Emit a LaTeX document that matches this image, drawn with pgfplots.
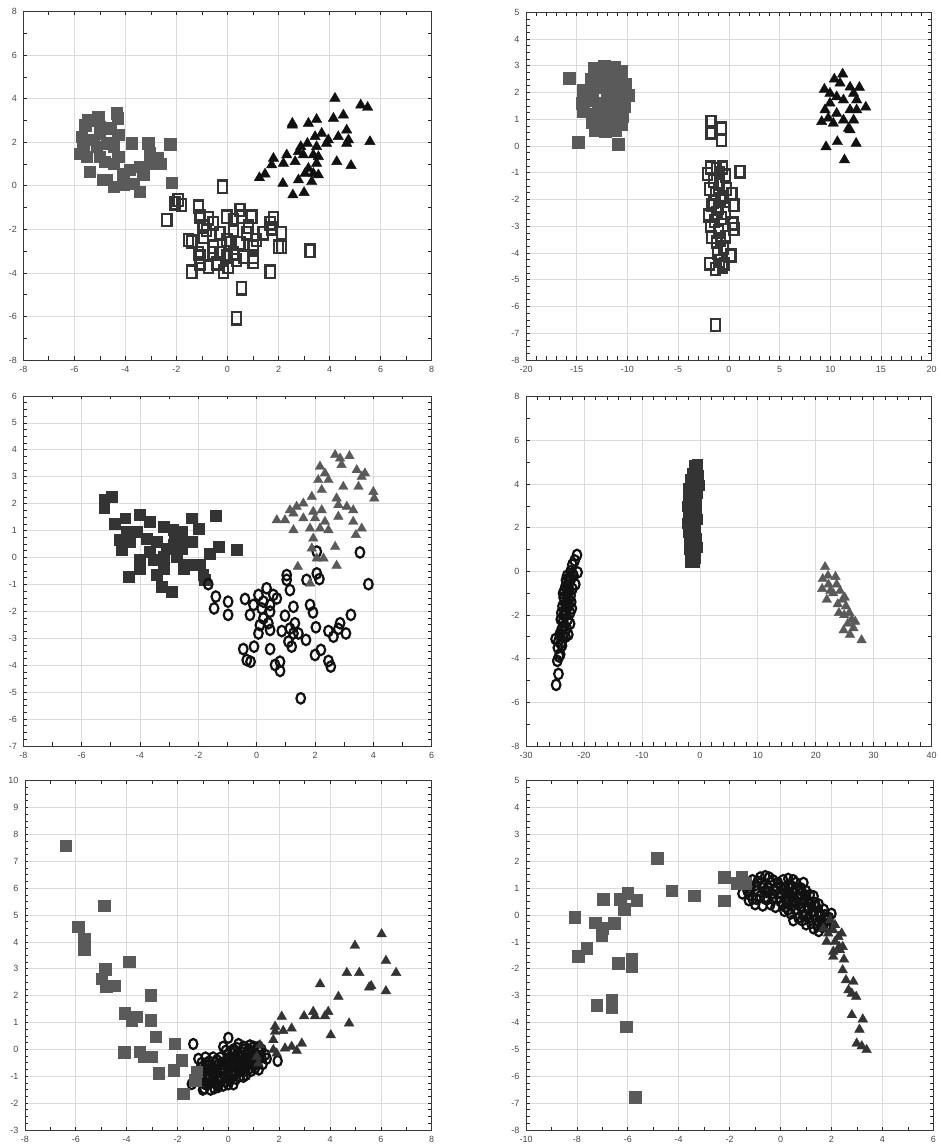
\documentclass[border=0pt]{standalone}
\usepackage{fontspec}
\setmainfont{Liberation Sans}
\usepackage{pgfplots}
\pgfplotsset{compat=1.18}
\definecolor{cgray}{HTML}{5A5A5A}
\definecolor{cdark}{HTML}{343434}
\definecolor{cblack}{HTML}{111111}
\pgfplotsset{
 panel/.style={scale only axis, anchor=south west,
  axis line style={draw=black!78, line width=0.9pt},
  grid=major, major grid style={draw=black!14, line width=0.7pt},
  tick align=inside, major tick length=3.5pt, minor tick length=3.5pt,
  tick style={draw=black!85, line width=0.7pt},
  tick label style={font=\fontsize{9}{10}\selectfont, text=black!72},
  /pgf/number format/assume math mode=true,
  xticklabel style={yshift=-3pt}, yticklabel style={xshift=-3pt}},
 fsq/.style={only marks, mark=square*, mark size=#1, color=cgray},
 dsq/.style={only marks, mark=square*, mark size=#1, color=cdark},
 hsq/.style={only marks, mark=square, mark size=#1, color=cdark, mark options={line width=2.4pt, xscale=0.85, yscale=1.15}},
 hci/.style={only marks, mark=o, mark size=#1, color=cblack, mark options={line width=2.2pt, xscale=0.9, yscale=1.1}},
 btri/.style={only marks, mark=triangle*, mark size=#1, color=cblack},
 dtri/.style={only marks, mark=triangle*, mark size=#1, color=cdark},
 gtri/.style={only marks, mark=triangle*, mark size=#1, color=cgray},
}
\begin{document}
\begin{tikzpicture}
\useasboundingbox (0,0) rectangle (940pt,1148pt);
% ---------- Panel 1 ----------
\begin{axis}[panel, at={(23.3pt,788pt)}, width=408.4pt, height=348.3pt,
 xmin=-8, xmax=8, ymin=-8, ymax=8, xtick distance=2, ytick distance=2,
 minor x tick num=1, minor y tick num=1]
\addplot[fsq=5.7pt] coordinates {
(-4.34,3.33) (-5.06,3.18) (-5.45,3.02) (-5.58,2.79) (-4.30,3.10) (-5.71,2.26) (-5.78,1.49) (-5.39,0.65)
(-5.13,1.80) (-4.74,1.95) (-5.0,2.41) (-4.28,2.34) (-4.47,1.80) (-3.76,1.95) (-3.10,1.95) (-2.25,1.92)
(-2.64,1.03) (-3.04,1.03) (-3.43,0.88) (-3.82,0.73) (-4.47,1.03) (-4.80,1.11) (-4.74,0.27) (-4.47,-0.04)
(-4.08,0.04) (-3.69,0.11) (-3.43,-0.27) (-3.30,0.50) (-2.19,0.15) (-4.08,0.57) (-4.87,0.27) (-4.28,1.34)
(-5.0,1.34) (-5.52,1.34) (-5.65,1.80) (-5.26,2.11) (-4.6,2.64) (-5.0,2.72) (-3.05,1.50) (-2.75,1.30)
};
\addplot[hsq=5.4pt] coordinates {
(-0.19,-0.04) (-1.93,-0.65) (-1.80,-0.88) (-2.06,-0.80) (-2.38,-1.57) (-1.14,-0.96) (-1.08,-1.42) (-0.75,-1.49)
(-0.03,-1.42) (0.49,-1.11) (0.55,-1.42) (0.95,-1.42) (1.80,-1.49) (1.73,-1.95) (2.12,-2.18) (1.99,-2.79)
(2.12,-2.79) (3.23,-2.98) (1.67,-3.94) (0.55,-4.71) (0.36,-6.09) (-1.40,-3.94) (-0.75,-3.71) (-1.08,-3.56)
(-1.53,-2.49) (-1.40,-2.56) (-0.95,-2.33) (-0.95,-1.87) (-0.16,-3.94) (0.03,-3.71) (-0.03,-3.25) (-0.56,-2.79)
(-0.29,-2.18) (0.23,-2.03) (0.75,-2.18) (1.01,-2.79) (1.01,-3.25) (1.01,-3.48) (0.62,-3.25) (0.23,-3.10)
(0.49,-2.64) (1.14,-2.49) (1.40,-2.18) (-0.56,-1.72) (-1.08,-3.25) (-0.29,-3.10) (0.10,-2.64) (0.23,-1.57)
(0.82,-1.87) (1.67,-1.72) (-0.56,-3.10) (-1.14,-3.10) (-0.82,-2.03) (-0.03,-2.49) (0.36,-3.41) (-0.42,-3.56)
};
\addplot[btri=6pt] coordinates {
(4.21,4.02) (5.22,3.71) (5.49,3.60) (5.58,2.03) (4.54,3.25) (4.15,3.10) (3.49,3.05) (3.17,2.87)
(2.54,2.87) (2.54,2.79) (4.67,2.56) (4.34,2.26) (4.74,2.11) (4.67,1.95) (3.69,2.41) (3.43,2.26)
(3.95,2.11) (3.88,1.95) (2.87,1.80) (3.13,1.95) (3.49,1.80) (3.36,1.42) (2.97,1.42) (2.78,1.57)
(2.32,1.42) (1.80,1.26) (1.73,0.96) (2.19,1.03) (2.65,1.11) (3.49,1.03) (4.28,1.11) (4.84,0.93)
(3.17,0.80) (3.04,0.57) (3.56,0.50) (3.30,0.19) (2.78,0.27) (2.17,0.11) (1.47,0.54) (1.25,0.37)
(2.56,-0.42) (3.00,-0.31) (3.36,0.57) (3.56,1.34)
};
\end{axis}
% ---------- Panel 2 ----------
\begin{axis}[panel, at={(526pt,788pt)}, width=405.7pt, height=347.7pt,
 xmin=-20, xmax=20, ymin=-8, ymax=5, xtick distance=5, ytick distance=1,
 minor x tick num=4, minor y tick num=3]
\addplot[fsq=6pt] coordinates {
(-13.3,2.9) (-12.3,3.0) (-11.3,2.95) (-10.6,2.8) (-13.6,2.5) (-12.8,2.6) (-11.8,2.5) (-11.0,2.5)
(-10.2,2.3) (-14.4,2.1) (-13.5,2.1) (-12.6,2.2) (-11.5,2.1) (-10.4,2.0) (-9.9,1.9) (-14.5,1.6)
(-13.8,1.7) (-12.9,1.6) (-12.0,1.7) (-11.0,1.6) (-10.3,1.5) (-14.4,1.3) (-13.2,1.2) (-12.3,1.3)
(-11.4,1.2) (-10.5,1.1) (-13.5,0.9) (-12.6,0.9) (-11.5,0.9) (-10.6,0.8) (-13.2,0.6) (-12.2,0.55)
(-11.2,0.6) (-13.0,2.3) (-12.0,2.0) (-11.0,1.9) (-15.7,2.55) (-14.9,0.15) (-10.9,0.05)
};
\addplot[hsq=5.2pt] coordinates {
(-1.76,0.89) (-0.71,0.66) (-1.76,0.50) (-0.71,0.23) (1.10,-0.96) (-1.30,-6.69)
(-1.8,-0.8) (-1.2,-0.85) (-0.6,-0.8) (-2.1,-1.05) (-0.3,-1.1) (-1.5,-1.3) (-0.9,-1.4) (-0.2,-1.6)
(-1.9,-1.6) (-1.3,-1.8) (0.3,-1.8) (-0.6,-1.9) (-1.7,-2.2) (0.5,-2.2) (-1.0,-2.3) (-0.3,-2.5)
(-2.0,-2.6) (-1.4,-2.8) (-0.7,-2.7) (0.4,-2.9) (0.5,-3.1) (-1.8,-3.0) (-1.0,-3.2) (-0.3,-3.4)
(-1.7,-3.4) (-1.2,-3.6) (-0.5,-3.8) (-1.1,-4.0) (0.2,-4.1) (-1.9,-4.4) (-1.3,-4.6) (-0.6,-4.5)
(-0.9,-4.3) (-1.5,-2.1) (-0.9,-1.0) (-0.8,-2.0) (-1.2,-2.5) (-0.8,-3.5) (-0.4,-4.4)
};
\addplot[btri=6pt] coordinates {
(11.22,2.69) (10.4,2.5) (9.42,2.12) (12.87,2.19) (13.5,1.45) (9.15,0.91) (9.58,-0.03) (10.7,0.16)
(11.4,-0.52) (12.55,0.1) (11.95,0.6) (10.63,1.84) (11.95,2.2) (9.97,1.6) (11.3,1.72) (12.6,1.72)
(11.95,1.35) (10.63,1.22) (9.8,1.04) (11.3,0.97) (12.3,0.97) (10.3,0.85) (11.8,0.66) (10.96,2.35)
(12.3,1.97) (9.97,1.97) (12.6,1.35) (9.48,1.35)
};
\end{axis}
% ---------- Panel 3 ----------
\begin{axis}[panel, at={(23.3pt,402pt)}, width=408.4pt, height=350pt,
 xmin=-8, xmax=6, ymin=-7, ymax=6, xtick distance=2, ytick distance=1,
 minor x tick num=1, minor y tick num=3]
\addplot[dsq=5.4pt] coordinates {
(-5.23,2.14) (-4.97,2.26) (-5.23,1.83) (-4.86,1.27) (-4.51,1.46) (-4.0,1.58) (-3.66,1.33) (-3.2,1.15)
(-2.23,1.46) (-2.0,1.08) (-1.4,1.56) (-1.31,0.40) (-0.69,0.28) (-2.57,0.96) (-2.8,0.71) (-2.23,0.59)
(-4.69,0.65) (-4.63,0.28) (-4.34,0.59) (-4.11,0.96) (-3.77,0.71) (-3.66,0.22) (-3.43,0.59) (-3.09,0.34)
(-2.86,0.47) (-2.74,0.03) (-3.2,0.03) (-4.0,-0.09) (-3.54,-0.09) (-2.34,-0.28) (-1.94,-0.28) (-1.6,0.15)
(-4.4,-0.71) (-4.0,-0.40) (-3.43,-0.65) (-3.26,-1.08) (-2.91,-1.27) (-3.2,-0.40) (-1.83,-0.65) (-1.77,-0.83)
(-2.51,-0.40) (-2.86,1.02) (-4.46,0.96) (-2.57,0.34) (-2.4,0.59)
};
\addplot[hci=4.8pt] coordinates {
(-1.66,-0.99) (-1.4,-1.45) (-1.46,-1.89) (-0.98,-1.64) (-0.98,-2.13) (-0.4,-1.54) (-0.23,-2.13) (-0.46,-3.4)
(-0.34,-3.81) (-0.21,-3.87) (-0.09,-3.31) (0.06,-2.82) (0.11,-2.51) (0.17,-1.89) (0.34,-1.14) (0.23,-1.64)
(0.46,-1.76) (0.57,-1.39) (0.69,-1.52) (0.46,-2.01) (0.23,-2.26) (0.4,-2.44) (0.46,-2.69) (0.46,-3.4)
(0.63,-3.99) (0.8,-3.87) (0.8,-4.21) (0.86,-2.73) (0.97,-2.16) (1.03,-0.65) (1.03,-0.83) (1.14,-1.21)
(1.26,-1.83) (1.14,-2.64) (1.09,-3.12) (1.2,-3.31) (1.26,-2.82) (1.31,-2.44) (1.43,-2.82) (1.71,-0.83)
(1.69,-3.06) (1.83,-1.76) (1.93,-2.04) (2.06,0.22) (2.06,-0.59) (2.15,-0.80) (2.03,-2.59) (2.0,-3.62)
(2.2,-3.43) (2.46,-2.73) (2.46,-3.84) (2.54,-4.05) (2.63,-2.94) (2.8,-2.65) (2.86,-2.44) (3.06,-2.82)
(3.23,-2.13) (3.54,0.19) (3.83,-0.99) (1.51,-5.23) (0.06,-1.39) (-0.11,-1.76)
};
\addplot[gtri=5.5pt] coordinates {
(2.69,3.81) (2.86,3.68) (3.18,3.77) (2.91,3.44) (2.17,3.38) (2.34,3.13) (3.43,3.25) (3.71,3.13)
(3.6,3.0) (2.11,2.88) (2.46,2.88) (2.23,2.51) (2.97,2.63) (3.49,2.63) (4.0,2.44) (4.03,2.2)
(1.89,2.26) (2.74,2.2) (1.6,2.01) (1.37,1.89) (1.14,1.76) (2.8,1.95) (3.09,1.89) (3.31,1.76)
(1.94,1.70) (2.23,1.76) (0.69,1.39) (0.97,1.39) (1.26,1.64) (1.6,1.46) (2.0,1.46) (2.34,1.33)
(2.8,1.52) (3.31,1.33) (1.26,1.02) (1.83,1.08) (2.17,1.08) (2.46,1.02) (3.6,1.08) (3.4,0.84)
(1.94,0.71) (1.89,0.34) (2.69,0.40) (2.06,-0.03) (2.29,-0.03) (1.41,-0.34) (2.74,-0.30) (1.83,-0.96)
};
\end{axis}
% ---------- Panel 4 ----------
\begin{axis}[panel, at={(526pt,402pt)}, width=405.7pt, height=349.3pt,
 xmin=-30, xmax=40, ymin=-8, ymax=8, xtick distance=10, ytick distance=2,
 minor x tick num=4, minor y tick num=1]
\addplot[hci=4.8pt] coordinates {
(-24.8,-5.2) (-24.4,-4.7) (-24.6,-4.1) (-24.3,-3.9) (-24.1,-3.8) (-24.9,-3.1) (-24.4,-3.2) (-23.6,-3.0)
(-23.9,-2.7) (-23.4,-2.5) (-24.0,-2.2) (-23.3,-2.0) (-22.1,-1.7) (-22.4,-1.9) (-23.7,-1.6) (-23.0,-1.4)
(-23.5,-1.2) (-22.8,-1.0) (-22.0,-0.8) (-23.2,-0.7) (-22.6,-0.5) (-22.9,-0.2) (-22.3,0.0) (-21.1,-0.05)
(-22.0,0.3) (-21.6,0.5) (-21.2,0.75) (-23.8,-3.4) (-23.2,-3.0) (-23.6,-2.3) (-22.8,-2.2) (-23.1,-1.8)
(-22.6,-1.3) (-22.3,-1.1) (-23.4,-0.9) (-22.5,-0.3) (-21.8,-0.2) (-24.2,-2.9) (-23.0,-2.6) (-22.7,-1.6)
(-24.5,-3.5) (-24.0,-3.3) (-23.7,-2.6) (-23.5,-2.0) (-23.2,-1.5) (-22.9,-1.1) (-22.6,-0.8) (-22.3,-0.4)
(-22.0,-0.1) (-22.7,-2.9) (-22.4,-2.4) (-23.9,-1.9) (-23.6,-1.0) (-23.1,-0.4) (-21.5,-0.6) (-22.2,-1.4)
};
\addplot[dsq=5pt] coordinates {
(-1.0,4.85) (-0.4,4.7) (-1.3,4.5) (-0.3,4.4) (-1.6,4.2) (-0.8,4.1) (-0.2,3.95) (-2.0,3.8)
(-1.2,3.7) (-0.4,3.6) (-2.1,3.4) (-1.3,3.3) (-0.6,3.2) (-2.2,3.0) (-1.4,2.9) (-0.7,2.8)
(-2.1,2.6) (-1.3,2.5) (-0.5,2.4) (-2.2,2.2) (-1.5,2.1) (-0.8,2.0) (-2.0,1.8) (-1.2,1.7)
(-0.6,1.5) (-1.8,1.35) (-1.0,1.2) (-1.9,1.0) (-1.0,0.9) (-1.7,0.7) (-0.8,0.6) (-1.6,0.4)
(-0.9,0.4) (-0.5,1.1) (-0.4,4.9)
};
\addplot[gtri=5.5pt] coordinates {
(21.6,0.2) (21.2,-0.35) (22.1,-0.2) (23.4,-0.25) (21.1,-0.8) (22.2,-0.6) (23.6,-0.6) (24.2,-0.9)
(21.9,-1.3) (23.0,-1.0) (24.6,-1.3) (23.8,-1.5) (25.2,-1.6) (24.9,-2.0) (25.8,-1.9) (26.2,-2.2)
(25.5,-2.4) (26.5,-2.6) (24.8,-2.7) (25.9,-2.9) (27.9,-3.15) (22.5,-0.9) (24.0,-1.9) (26.8,-2.3)
(25.0,-1.2)
};
\end{axis}
% ---------- Panel 5 ----------
\begin{axis}[panel, at={(25pt,18pt)}, width=406.7pt, height=349.3pt,
 xmin=-8, xmax=8, ymin=-3, ymax=10, xtick distance=2, ytick distance=1,
 minor x tick num=1, minor y tick num=3]
\addplot[hci=4.6pt] coordinates {
(-1.38,0.20) (0,0.43) (-1.44,-1.29) (-0.39,-1.33) (1.51,-0.35) (1.94,-0.43) (0.59,-1.02) (-1.18,-0.35)
(-1.0,-1.5) (-0.8,-1.3) (-0.9,-1.0) (-0.7,-0.8) (-0.6,-1.2) (-0.5,-0.9) (-0.5,-0.5) (-0.4,-1.1)
(-0.3,-0.7) (-0.3,-0.3) (-0.2,-0.9) (-0.1,-0.5) (0.0,-0.2) (0.0,-0.8) (0.1,-1.1) (0.1,-0.4)
(0.2,-0.6) (0.2,0.0) (0.3,-0.9) (0.3,-0.3) (0.4,-0.5) (0.5,-0.1) (0.5,-0.8) (0.6,-0.4)
(0.7,-0.2) (0.7,-0.6) (0.8,0.0) (0.9,-0.3) (1.0,-0.5) (1.1,-0.2) (1.2,0.1) (1.3,-0.3)
(-0.8,-0.6) (-0.6,-0.3) (-1.1,-0.7) (-0.2,0.1) (0.4,0.2) (-0.4,-1.4) (0.0,-1.3) (0.6,0.1)
(-0.7,-1.5) (1.0,0.1) (0.2,-1.3) (-0.9,-0.3)
(-1.1,-1.2) (-1.0,-0.9) (-0.9,-1.3) (-0.85,-0.5) (-0.75,-1.1) (-0.65,-0.6) (-0.55,-1.45) (-0.45,-0.75)
(-0.35,-1.2) (-0.25,-0.5) (-0.15,-1.0) (-0.05,-0.35) (0.05,-0.65) (0.15,-0.9) (0.25,-0.4) (0.35,-0.7)
(0.45,-1.0) (0.55,-0.3) (0.65,-0.8) (0.75,-0.45) (0.85,-0.7) (0.95,-0.1) (1.05,-0.7) (1.15,-0.45)
(1.25,-0.1) (1.35,-0.55) (0.15,-0.15) (-0.1,-0.05) (0.35,0.05) (0.85,0.15) (-0.6,-0.9) (-0.3,-1.0)
(0.0,-1.0) (0.45,-0.2) (0.7,-0.95) (-0.95,-0.75) (1.45,-0.2) (-0.2,-1.35)
(-1.0,-1.1) (-0.95,-1.45) (-0.8,-0.95) (-0.7,-1.25) (-0.6,-0.7) (-0.5,-1.25) (-0.4,-0.6) (-0.3,-1.1)
(-0.2,-0.7) (-0.1,-1.2) (0.0,-0.5) (0.1,-0.85) (0.2,-0.3) (0.3,-1.1) (0.4,-0.8) (0.5,-0.55)
(0.6,-0.65) (0.7,-0.35) (0.8,-0.55) (0.9,-0.8) (1.0,-0.3) (1.1,-0.55) (1.2,-0.75) (1.3,0.0)
(-0.45,-0.4) (0.25,-0.05) (0.65,0.0) (-0.75,-0.45) (-1.05,-0.5) (0.95,-0.55)
};
\addplot[fsq=5.7pt] coordinates {
(-6.39,7.57) (-4.89,5.35) (-5.9,4.57) (-5.67,4.13) (-5.67,3.70) (-3.9,3.26) (-4.84,2.98) (-4.98,2.64)
(-4.81,2.33) (-4.49,2.37) (-3.06,2.01) (-4.08,1.34) (-3.61,1.22) (-3.8,1.09) (-3.06,1.09) (-2.85,0.47)
(-2.1,0.22) (-4.09,-0.11) (-3.48,-0.09) (-3.34,-0.27) (-3.02,-0.27) (-1.84,-0.40) (-2.16,-0.77) (-2.75,-0.89)
(-1.25,-0.83) (-1.77,-1.64) (-1.31,-1.15)
};
\addplot[dtri=5.6pt] coordinates {
(6.03,4.29) (4.98,3.86) (6.2,3.30) (6.6,2.85) (4.66,2.85) (5.15,2.85) (3.61,2.43) (5.62,2.36)
(5.54,2.31) (6.2,2.17) (4.33,1.96) (3.93,1.40) (3.34,1.40) (2.98,1.24) (3.8,1.24) (3.41,1.24)
(4.75,0.97) (2.1,1.22) (1.84,0.85) (1.84,0.66) (2.16,0.69) (2.49,0.78) (4.03,0.53) (2.89,0.22)
(2.49,0.10) (2.23,0.04) (2.69,-0.05) (1.77,0.35) (1.77,-0.02) (1.25,0.16) (1.12,-0.27) (1.18,-0.52)
(1.9,-0.15)
};
\end{axis}
% ---------- Panel 6 ----------
\begin{axis}[panel, at={(526pt,18pt)}, width=407.3pt, height=349.3pt,
 xmin=-10, xmax=6, ymin=-8, ymax=5, xtick distance=2, ytick distance=1,
 minor x tick num=1, minor y tick num=3]
\addplot[hci=4.6pt] coordinates {
(-1.4,1.2) (-1.5,0.8) (-1.2,0.75) (-1.0,1.1) (-0.8,1.4) (-0.6,1.45) (-0.9,0.9) (-0.5,1.0)
(-1.0,0.4) (-0.7,0.35) (-0.3,1.3) (-0.1,1.2) (0.1,1.3) (0.3,1.35) (0.5,1.3) (0.9,1.2)
(-0.3,0.6) (0.0,0.8) (0.2,1.0) (0.4,0.7) (0.6,1.0) (0.8,0.8) (1.0,0.9) (-0.2,0.3)
(0.1,0.4) (0.3,0.2) (0.6,0.5) (0.8,0.3) (1.1,0.5) (1.3,0.7) (1.4,0.3) (0.7,-0.1)
(1.0,0.0) (1.2,-0.3) (1.5,0.1) (1.7,0.2) (1.3,-0.5) (1.6,-0.2) (2.0,0.05) (1.8,-0.4)
(0.5,-0.2) (-0.5,0.6) (1.5,-0.6) (-0.8,0.7) (0.2,0.6) (1.9,-0.1)
(-1.2,1.0) (-1.1,0.6) (-0.9,1.25) (-0.7,1.0) (-0.6,0.6) (-0.4,1.2) (-0.4,0.4) (-0.2,0.9)
(0.0,1.05) (0.0,0.5) (0.2,0.3) (0.3,0.8) (0.4,1.1) (0.5,0.5) (0.6,0.2) (0.7,0.7)
(0.9,0.5) (0.9,0.0) (1.0,0.7) (1.1,0.2) (1.2,0.4) (1.3,0.0) (1.4,-0.2) (1.6,0.0)
(1.7,-0.3) (1.1,-0.1) (0.8,1.0) (0.5,0.85) (1.5,0.4) (0.3,0.5)
(-1.3,0.9) (-1.25,0.55) (-1.1,1.3) (-0.95,0.6) (-0.75,1.2) (-0.55,0.85) (-0.45,1.4) (-0.35,0.8)
(-0.15,1.0) (-0.05,0.65) (0.1,0.95) (0.15,0.15) (0.35,1.0) (0.45,0.35) (0.6,1.2) (0.7,0.4)
(0.75,0.95) (0.95,0.75) (1.05,0.3) (1.15,0.75) (1.25,0.15) (1.35,0.45) (1.45,-0.4) (1.55,-0.05)
(1.65,-0.45) (1.75,0.0) (1.85,-0.2) (0.85,-0.2) (1.0,-0.35) (0.4,0.05)
};
\addplot[fsq=5.8pt] coordinates {
(-4.84,2.11) (-4.28,0.91) (-3.39,0.72) (-2.21,1.40) (-2.21,0.53) (-1.53,1.40) (-1.73,1.18) (-1.4,1.18)
(-6.96,0.60) (-6.31,0.60) (-6.01,0.81) (-5.65,0.56) (-6.14,0.22) (-8.08,-0.09) (-7.29,-0.29) (-6.99,-0.50)
(-6.54,-0.31) (-7.03,-0.74) (-7.62,-1.24) (-7.94,-1.53) (-6.37,-1.80) (-5.85,-1.64) (-5.85,-1.92) (-7.22,-3.35)
(-6.63,-3.16) (-6.63,-3.44) (-6.07,-4.16) (-5.72,-6.79)
};
\addplot[dtri=5.6pt] coordinates {
(1.94,-0.19) (2.14,-0.37) (1.68,-0.5) (2.4,-0.68) (1.87,-0.68) (2.07,-0.56) (2.27,-0.81) (1.81,-0.99)
(2.14,-0.99) (2.44,-1.18) (2.07,-1.36) (2.33,-1.30) (2.49,-1.65) (2.44,-2.05) (2.57,-2.42) (2.86,-2.48)
(2.67,-2.79) (2.8,-2.92) (2.97,-3.04) (2.8,-3.72) (3.23,-3.88) (3.1,-4.26) (2.99,-4.78) (3.19,-4.88)
(3.38,-5.02) (2.07,-1.55) (2.3,-1.18)
};
\end{axis}
\end{tikzpicture}
\end{document}
